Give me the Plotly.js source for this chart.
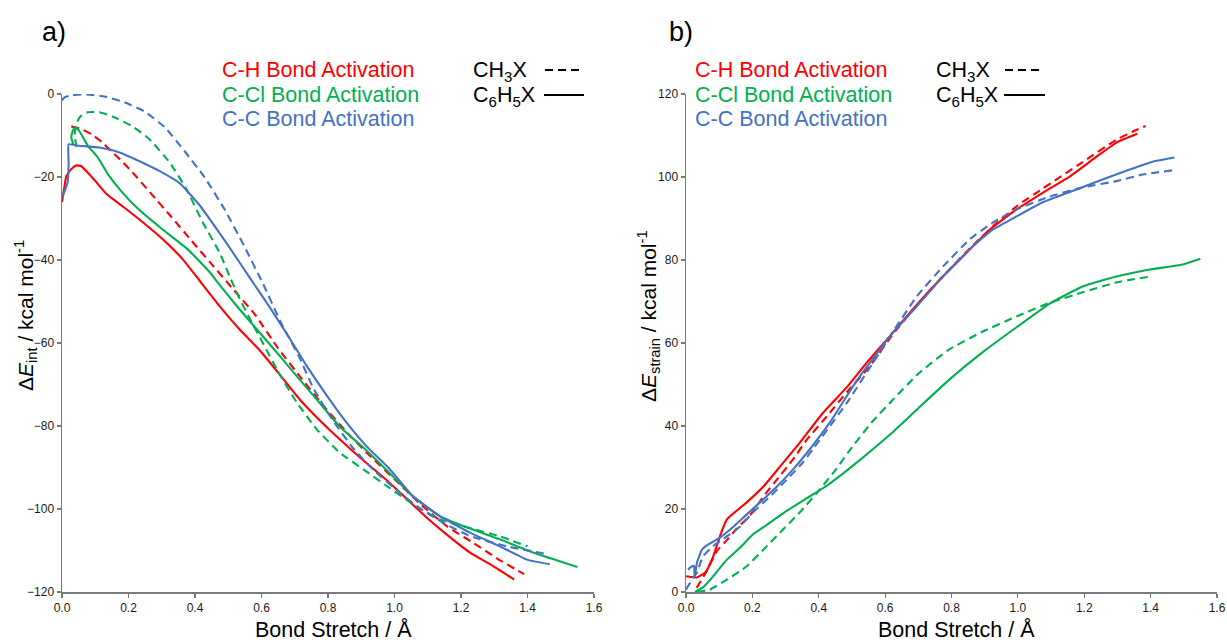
<!DOCTYPE html>
<html><head><meta charset="utf-8">
<script src="https://cdn.plot.ly/plotly-3.0.1.min.js"></script>
<style>html,body{margin:0;padding:0;background:#fff}</style>
</head><body><div id="chart" style="width:1227px;height:642px"></div>
<script>
// ---------- Panel a) interaction energy ----------
const aHdashX = [0.028,0.06,0.089,0.12,0.149,0.18,0.209,0.27,0.33,0.39,0.45,0.51,0.58,0.65,0.72,0.79,0.86,0.93,1.0,1.08,1.16,1.24,1.31,1.39];
const aHdashY = [-7.8,-8.5,-9.7,-11.6,-13.8,-16.2,-18.6,-24.2,-29.7,-35.4,-41.0,-46.6,-53.1,-61.3,-68.5,-75.5,-81.8,-87.5,-92.8,-99.0,-104.3,-108.3,-112.0,-115.7];
const aHsolX = [0,0.006,0.013,0.028,0.043,0.058,0.077,0.104,0.134,0.183,0.243,0.303,0.364,0.414,0.474,0.534,0.595,0.655,0.715,0.775,0.835,0.905,0.976,1.04,1.10,1.15,1.227,1.287,1.36];
const aHsolY = [-26,-23,-19.8,-18.1,-17.2,-17.4,-18.9,-21.3,-24.1,-27.1,-30.9,-35.0,-39.9,-45.0,-51.1,-56.7,-61.8,-67.6,-73.6,-78.6,-83.2,-88.2,-93.0,-97.8,-102.3,-105.7,-110.5,-113.3,-117.0];
const aClDashX = [0.044,0.038,0.042,0.053,0.077,0.113,0.152,0.212,0.263,0.324,0.375,0.423,0.474,0.504,0.534,0.564,0.604,0.655,0.706,0.766,0.835,0.916,0.986,1.067,1.136,1.227,1.317,1.40];
const aClDashY = [-12.8,-10.0,-7.5,-5.6,-4.4,-4.4,-5.4,-7.8,-10.9,-16.5,-23.0,-30.9,-38.2,-43.9,-49.3,-54.0,-60.0,-67.6,-74.3,-80.8,-86.4,-91.0,-95.0,-99.4,-102.5,-104.6,-106.6,-109.0];
const aClSolX = [0.034,0.028,0.032,0.038,0.048,0.058,0.078,0.108,0.138,0.178,0.228,0.299,0.379,0.444,0.474,0.53,0.6,0.66,0.706,0.766,0.835,0.906,0.976,1.055,1.136,1.217,1.317,1.417,1.55];
const aClSolY = [-12.1,-10.5,-9.0,-8.1,-8.5,-9.7,-12.5,-15.3,-19.3,-23.4,-27.6,-32.4,-37.5,-42.9,-46.0,-51.5,-58.0,-63.6,-68.0,-73.6,-80.1,-85.2,-90.6,-96.9,-101.7,-104.4,-107.3,-110.5,-114.0];
const aCCdashX = [0,0.008,0.03,0.068,0.128,0.188,0.248,0.309,0.369,0.429,0.489,0.549,0.605,0.658,0.715,0.754,0.814,0.875,0.935,1.0,1.07,1.15,1.227,1.338,1.462];
const aCCdashY = [-1.5,-0.8,-0.3,-0.1,-0.6,-2.0,-4.2,-8.0,-13.8,-20.1,-27.8,-36.8,-45.8,-55.0,-63.6,-70.6,-78.6,-85.3,-90.5,-95.0,-99.5,-103.5,-106.5,-109.0,-110.9];
const aCCsolX = [0,0.01,0.017,0.02,0.02,0.043,0.113,0.173,0.233,0.294,0.354,0.414,0.465,0.514,0.564,0.625,0.685,0.735,0.796,0.856,0.916,0.986,1.055,1.136,1.227,1.317,1.398,1.467];
const aCCsolY = [-25,-23,-21.3,-17,-12.1,-12.4,-12.9,-14.1,-16.2,-18.6,-21.5,-26.8,-32.5,-38.2,-44.2,-51.4,-58.9,-65.4,-72.6,-79.2,-84.9,-90.4,-96.9,-101.7,-105.7,-109.0,-112.2,-113.3];

// ---------- Panel b) strain energy ----------
const bHsolX = [0,0.015,0.032,0.058,0.082,0.102,0.123,0.183,0.233,0.283,0.343,0.413,0.484,0.545,0.605,0.683,0.765,0.846,0.915,0.996,1.075,1.156,1.237,1.297,1.36];
const bHsolY = [3.8,3.6,3.5,4.7,8.6,13.4,17.5,21.6,25.4,30.2,36.0,43.2,49.3,55.3,60.8,68.1,75.3,81.8,87.3,92.2,96.2,100.1,104.9,108.3,110.4];
const bHdashX = [0.032,0.062,0.092,0.123,0.153,0.193,0.233,0.273,0.323,0.364,0.424,0.484,0.553,0.624,0.70,0.78,0.86,0.94,1.0,1.075,1.195,1.297,1.358,1.385];
const bHdashY = [1.0,5.0,9.8,12.5,15.3,18.5,23.0,27.0,32.0,36.7,42.3,48.1,54.3,62.2,69.5,76.6,83.2,89.2,93.2,97.2,103.6,109.0,111.4,112.3];
const bCCsolX = [0.006,0.018,0.024,0.026,0.033,0.048,0.066,0.102,0.141,0.183,0.223,0.274,0.322,0.364,0.433,0.515,0.614,0.695,0.774,0.864,0.924,0.996,1.075,1.177,1.255,1.337,1.406,1.472];
const bCCsolY = [5.4,6.2,6.3,3.7,7.1,10.2,11.4,13.1,15.6,18.7,21.6,25.4,29.5,33.5,40.8,51.0,61.6,68.8,76.0,83.3,87.3,90.5,93.9,97.0,99.4,101.8,103.7,104.7];
const bCCdashX = [0,0.018,0.033,0.051,0.081,0.123,0.163,0.202,0.253,0.304,0.352,0.383,0.484,0.563,0.624,0.695,0.774,0.855,0.924,0.996,1.096,1.195,1.297,1.376,1.466];
const bCCdashY = [0.6,3.0,4.7,8.6,11.0,13.4,15.8,19.2,23.0,27.1,31.2,34.5,45.5,55.2,62.8,71.2,78.4,85.0,89.0,92.2,95.3,97.5,99.0,100.6,101.6];
const bClSolX = [0.027,0.051,0.081,0.123,0.163,0.202,0.253,0.304,0.364,0.424,0.485,0.554,0.62,0.70,0.795,0.894,0.996,1.096,1.195,1.297,1.397,1.496,1.55];
const bClSolY = [0,1.1,3.7,7.8,10.7,13.9,16.7,19.6,22.6,25.6,29.3,33.8,38.3,44.3,51.3,57.8,63.8,69.5,73.6,76.0,77.7,78.9,80.3];
const bClDashX = [0.033,0.072,0.123,0.183,0.233,0.283,0.343,0.403,0.454,0.503,0.563,0.624,0.70,0.79,0.89,0.996,1.096,1.195,1.297,1.397];
const bClDashY = [0,0.6,3.0,6.2,10.2,14.3,19.2,24.7,29.8,35.2,41.2,46.4,52.6,58.3,62.6,66.4,69.7,72.2,74.6,76.0];

const xTicks = [0,0.2,0.4,0.6,0.8,1.0,1.2,1.4,1.6];
const aYTicks = [-120,-100,-80,-60,-40,-20,0];
const bYTicks = [0,20,40,60,80,100,120];
const seriesNames = ["C-H Bond Activation","C-Cl Bond Activation","C-C Bond Activation"];

const RED = "#ff0000", GREEN = "#00b050", BLUE = "#4472c4";
const DASH = "8px,5px";
const W = 2.1;

function tr(x, y, color, dashed, xa, ya) {
  return {x: x, y: y, xaxis: xa, yaxis: ya, mode: "lines", type: "scatter",
    line: {color: color, width: W, dash: dashed ? DASH : "solid", shape: "spline", smoothing: 0.4},
    showlegend: false, hoverinfo: "skip"};
}

const data = [
  tr(aHdashX, aHdashY, RED, true, "x", "y"),
  tr(aHsolX, aHsolY, RED, false, "x", "y"),
  tr(aClDashX, aClDashY, GREEN, true, "x", "y"),
  tr(aClSolX, aClSolY, GREEN, false, "x", "y"),
  tr(aCCdashX, aCCdashY, BLUE, true, "x", "y"),
  tr(aCCsolX, aCCsolY, BLUE, false, "x", "y"),
  tr(bHsolX, bHsolY, RED, false, "x2", "y2"),
  tr(bHdashX, bHdashY, RED, true, "x2", "y2"),
  tr(bClSolX, bClSolY, GREEN, false, "x2", "y2"),
  tr(bClDashX, bClDashY, GREEN, true, "x2", "y2"),
  tr(bCCsolX, bCCsolY, BLUE, false, "x2", "y2"),
  tr(bCCdashX, bCCdashY, BLUE, true, "x2", "y2")
];

const FONT = "Liberation Sans, Arial, Helvetica, sans-serif";
function axisX(domain, anchor) {
  return {domain: domain, anchor: anchor, range: [0, 1.6], tickvals: xTicks, tickformat: ".1f",
    showgrid: false, zeroline: false, showline: true, linecolor: "#7a7a7a", linewidth: 1.5,
    ticks: "outside", ticklen: 4, tickcolor: "#7a7a7a", tickwidth: 1.2,
    tickfont: {family: FONT, size: 12, color: "#1a1a1a"}, fixedrange: true};
}
function axisY(range, ticks, anchor) {
  return {range: range, anchor: anchor, tickvals: ticks,
    showgrid: false, zeroline: false, showline: true, linecolor: "#7a7a7a", linewidth: 1.5,
    ticks: "outside", ticklen: 4, tickcolor: "#7a7a7a", tickwidth: 1.2,
    tickfont: {family: FONT, size: 12, color: "#1a1a1a"}, fixedrange: true};
}

// pixel position -> paper coords (plot area 62..1217 x 94..592)
const px = v => (v - 62) / 1155;
const py = v => (592 - v) / 498;

const ann = [];
function txt(t, x, y, size, color, opts) {
  ann.push(Object.assign({text: t, x: px(x), y: py(y), xref: "paper", yref: "paper",
    showarrow: false, xanchor: "left", yanchor: "middle",
    font: {family: FONT, size: size, color: color}}, opts || {}));
}
txt("a)", 40, 32, 27, "#000");
txt("b)", 667, 32, 27, "#000");
const colors = [RED, GREEN, BLUE];
[222, 695].forEach(function (lx) {
  seriesNames.forEach(function (n, i) { txt(n, lx - 2, 70 + i * 24.5, 21.5, colors[i]); });
});
txt("CH<sub>3</sub>X", 471, 72, 21.5, "#000");
txt("C<sub>6</sub>H<sub>5</sub>X", 471, 97, 21.5, "#000");
txt("CH<sub>3</sub>X", 934, 72, 21.5, "#000");
txt("C<sub>6</sub>H<sub>5</sub>X", 934, 97, 21.5, "#000");
txt("Bond Stretch / Å", 333, 630, 21.5, "#000", {xanchor: "center"});
txt("Bond Stretch / Å", 956, 630, 21.5, "#000", {xanchor: "center"});
txt("Δ<i>E</i><sub>int</sub> / kcal mol<sup>-1</sup>", 25, 316, 21, "#000", {xanchor: "center", textangle: -90});
txt("Δ<i>E</i><sub>strain</sub> / kcal mol<sup>-1</sup>", 648, 316, 21, "#000", {xanchor: "center", textangle: -90});

const shapes = [
  {type: "line", xref: "paper", yref: "paper", x0: px(545), x1: px(582), y0: py(70), y1: py(70), line: {color: "#000", width: 2, dash: "8px,5px"}},
  {type: "line", xref: "paper", yref: "paper", x0: px(544), x1: px(584), y0: py(95), y1: py(95), line: {color: "#000", width: 2}},
  {type: "line", xref: "paper", yref: "paper", x0: px(1005), x1: px(1042), y0: py(70), y1: py(70), line: {color: "#000", width: 2, dash: "8px,5px"}},
  {type: "line", xref: "paper", yref: "paper", x0: px(1004), x1: px(1045), y0: py(95), y1: py(95), line: {color: "#000", width: 2}}
];

const layout = {
  width: 1227, height: 642,
  margin: {l: 62, r: 10, t: 94, b: 50},
  paper_bgcolor: "#fff", plot_bgcolor: "#fff",
  showlegend: false,
  font: {family: FONT},
  xaxis: axisX([0, 0.4606], "y"),
  yaxis: axisY([-120, 0], aYTicks, "x"),
  xaxis2: axisX([0.5403, 1], "y2"),
  yaxis2: axisY([0, 120], bYTicks, "x2"),
  annotations: ann,
  shapes: shapes
};

Plotly.newPlot("chart", data, layout, {staticPlot: true, displayModeBar: false});
</script></body></html>
